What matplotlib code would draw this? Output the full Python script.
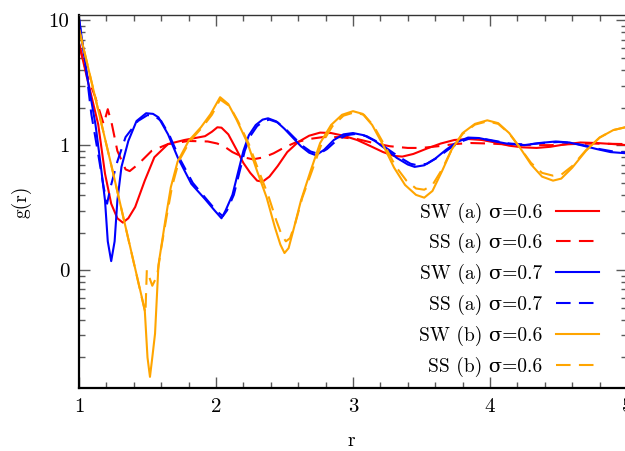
import numpy as np
import matplotlib
matplotlib.use('Agg')
import matplotlib.pyplot as plt
from matplotlib.ticker import LogLocator, NullFormatter

plt.rcParams['font.family'] = ['cmr10', 'DejaVu Serif']
plt.rcParams['font.size'] = 14
plt.rcParams['axes.unicode_minus'] = False

# g(r) curves
r_red_sw = [1.00, 1.066, 1.14, 1.19, 1.235, 1.28, 1.32, 1.36, 1.41, 1.48, 1.55, 1.65, 1.77, 1.92,
            1.97, 2.01, 2.04, 2.09, 2.15, 2.20, 2.25, 2.30, 2.34, 2.39, 2.45, 2.52, 2.60, 2.68,
            2.76, 2.84, 2.93, 3.03, 3.13, 3.22, 3.30, 3.36, 3.44, 3.54, 3.64, 3.74, 3.84, 3.94,
            4.04, 4.14, 4.24, 4.34, 4.44, 4.56, 4.66, 4.78, 4.90, 5.00]
g_red_sw = [6.5, 3.2, 1.47, 0.59, 0.34, 0.26, 0.24, 0.26, 0.32, 0.52, 0.80, 1.02, 1.10, 1.18,
            1.28, 1.39, 1.38, 1.22, 0.92, 0.72, 0.60, 0.52, 0.51, 0.56, 0.68, 0.88, 1.06, 1.19,
            1.26, 1.25, 1.19, 1.10, 0.98, 0.88, 0.82, 0.81, 0.85, 0.94, 1.03, 1.10, 1.12, 1.10,
            1.05, 0.99, 0.96, 0.95, 0.97, 1.02, 1.05, 1.04, 1.02, 1.00]

r_red_ss = [1.00, 1.06, 1.12, 1.18, 1.21, 1.24, 1.28, 1.34, 1.37, 1.43, 1.53, 1.65, 1.80, 1.94,
            2.01, 2.07, 2.12, 2.20, 2.27, 2.35, 2.42, 2.50, 2.58, 2.68, 2.78, 2.90, 3.03, 3.15,
            3.27, 3.40, 3.50, 3.62, 3.74, 3.86, 4.00, 4.15, 4.30, 4.45, 4.60, 4.75, 5.00]
g_red_ss = [6.5, 3.6, 2.4, 1.47, 1.94, 1.47, 0.90, 0.64, 0.62, 0.70, 0.90, 1.02, 1.08, 1.07,
            1.03, 0.96, 0.88, 0.80, 0.77, 0.80, 0.86, 0.96, 1.05, 1.12, 1.16, 1.16, 1.12, 1.04,
            0.98, 0.95, 0.95, 0.98, 1.02, 1.04, 1.03, 1.01, 1.00, 1.00, 1.02, 1.03, 1.02]

r_blue_sw = [1.00, 1.066, 1.12, 1.16, 1.19, 1.21, 1.235, 1.26, 1.28, 1.31, 1.36, 1.42, 1.49, 1.54,
             1.58, 1.65, 1.72, 1.82, 1.92, 1.99, 2.04, 2.07, 2.12, 2.16, 2.20, 2.24, 2.29, 2.34,
             2.38, 2.44, 2.50, 2.56, 2.62, 2.68, 2.73, 2.79, 2.86, 2.93, 3.00, 3.08, 3.16, 3.24,
             3.32, 3.40, 3.45, 3.52, 3.60, 3.68, 3.76, 3.84, 3.92, 4.02, 4.12, 4.25, 4.36, 4.48,
             4.58, 4.68, 4.78, 4.88, 5.00]
g_blue_sw = [10.3, 3.2, 1.47, 0.67, 0.36, 0.17, 0.118, 0.17, 0.36, 0.67, 1.08, 1.56, 1.80, 1.78,
             1.67, 1.22, 0.80, 0.49, 0.37, 0.30, 0.26, 0.30, 0.40, 0.60, 0.90, 1.20, 1.45, 1.60,
             1.64, 1.55, 1.35, 1.15, 0.98, 0.87, 0.83, 0.92, 1.10, 1.22, 1.25, 1.20, 1.08, 0.93,
             0.79, 0.70, 0.67, 0.69, 0.78, 0.92, 1.06, 1.15, 1.14, 1.08, 1.03, 1.00, 1.04, 1.07,
             1.05, 0.99, 0.93, 0.88, 0.86]

r_blue_ss = [1.00, 1.05, 1.09, 1.14, 1.18, 1.205, 1.23, 1.28, 1.34, 1.43, 1.50, 1.55, 1.60, 1.66,
             1.73, 1.83, 1.93, 2.00, 2.05, 2.08, 2.13, 2.17, 2.21, 2.25, 2.30, 2.35, 2.39, 2.45,
             2.51, 2.57, 2.63, 2.69, 2.75, 2.81, 2.88, 2.95, 3.02, 3.10, 3.18, 3.26, 3.34, 3.42,
             3.47, 3.54, 3.62, 3.70, 3.78, 3.86, 3.94, 4.04, 4.14, 4.27, 4.38, 4.50, 4.60, 4.70,
             4.80, 4.90, 5.00]
g_blue_ss = [10.3, 4.2, 1.77, 0.85, 0.46, 0.34, 0.46, 0.74, 1.16, 1.56, 1.74, 1.72, 1.56, 1.20,
             0.80, 0.50, 0.37, 0.30, 0.27, 0.30, 0.40, 0.60, 0.90, 1.18, 1.42, 1.56, 1.60, 1.52,
             1.34, 1.15, 0.99, 0.89, 0.85, 0.93, 1.09, 1.20, 1.23, 1.18, 1.06, 0.92, 0.80, 0.71,
             0.69, 0.71, 0.80, 0.93, 1.06, 1.14, 1.13, 1.08, 1.03, 1.01, 1.04, 1.06, 1.04, 0.99,
             0.93, 0.89, 0.87]

r_orange_sw = [1.00, 1.24, 1.48, 1.50, 1.518, 1.535, 1.555, 1.58, 1.63, 1.67, 1.72, 1.80, 1.89,
               1.96, 2.03, 2.09, 2.15, 2.23, 2.30, 2.37, 2.43, 2.47, 2.50, 2.53, 2.57, 2.62, 2.69,
               2.76, 2.84, 2.92, 3.00, 3.07, 3.14, 3.22, 3.30, 3.38, 3.46, 3.52, 3.58, 3.65, 3.72,
               3.80, 3.89, 3.98, 4.06, 4.14, 4.22, 4.30, 4.38, 4.46, 4.52, 4.60, 4.70, 4.80, 4.90,
               5.00]
g_orange_sw = [8.5, 0.66, 0.048, 0.02, 0.014, 0.02, 0.031, 0.11, 0.25, 0.46, 0.74, 1.08, 1.39,
               1.77, 2.42, 2.13, 1.60, 1.04, 0.62, 0.38, 0.22, 0.16, 0.137, 0.15, 0.22, 0.36, 0.62,
               1.04, 1.45, 1.75, 1.87, 1.78, 1.45, 1.00, 0.66, 0.48, 0.40, 0.38, 0.43, 0.62, 0.92,
               1.25, 1.48, 1.58, 1.50, 1.25, 0.95, 0.70, 0.56, 0.52, 0.54, 0.66, 0.90, 1.15, 1.32,
               1.40]

r_orange_ss = [1.00, 1.24, 1.485, 1.495, 1.535, 1.57, 1.60, 1.64, 1.68, 1.73, 1.81, 1.90, 1.97,
               2.03, 2.10, 2.16, 2.24, 2.31, 2.38, 2.44, 2.48, 2.51, 2.54, 2.58, 2.63, 2.70, 2.77,
               2.85, 2.93, 3.01, 3.08, 3.15, 3.23, 3.31, 3.39, 3.46, 3.52, 3.58, 3.65, 3.72, 3.80,
               3.89, 3.98, 4.06, 4.14, 4.22, 4.30, 4.38, 4.46, 4.52, 4.60, 4.70, 4.80, 4.90, 5.00]
g_orange_ss = [8.5, 0.66, 0.045, 0.10, 0.075, 0.09, 0.15, 0.27, 0.47, 0.75, 1.08, 1.39, 1.75,
               2.32, 2.05, 1.56, 1.02, 0.63, 0.40, 0.25, 0.19, 0.17, 0.18, 0.24, 0.38, 0.62, 1.02,
               1.42, 1.72, 1.83, 1.75, 1.43, 1.00, 0.68, 0.52, 0.45, 0.44, 0.48, 0.64, 0.92, 1.23,
               1.46, 1.55, 1.48, 1.24, 0.95, 0.72, 0.60, 0.57, 0.58, 0.68, 0.91, 1.15, 1.32, 1.40]

xticks = [1, 2, 3, 4, 5]
yticks = [0.1, 1, 10]
ytick_labels = ['0', '1', '10']

fig = plt.figure(figsize=(6.25, 4.51), dpi=100)
ax = fig.add_axes([79/625, 63/451, 548/625, 373/451])

dash = (0, (7, 4))
ax.plot(r_red_sw, g_red_sw, color='#ff0000', lw=1.5, label='SW (a) σ=0.6')
ax.plot(r_red_ss, g_red_ss, color='#ff0000', lw=1.5, ls=dash, label='SS (a) σ=0.6')
ax.plot(r_blue_sw, g_blue_sw, color='#0000ff', lw=1.5, label='SW (a) σ=0.7')
ax.plot(r_blue_ss, g_blue_ss, color='#0000ff', lw=1.5, ls=dash, label='SS (a) σ=0.7')
ax.plot(r_orange_sw, g_orange_sw, color='#ffa500', lw=1.5, label='SW (b) σ=0.6')
ax.plot(r_orange_ss, g_orange_ss, color='#ffa500', lw=1.5, ls=dash, label='SS (b) σ=0.6')

ax.set_xlim(1, 5)
ax.set_xticks(xticks)
ax.set_xticklabels([str(x) for x in xticks])
ax.set_xticks(np.arange(1, 5.01, 0.2), minor=True)

ax.set_yscale('log')
ax.set_ylim(0.0114, 11)
ax.set_yticks(yticks)
ax.set_yticklabels(ytick_labels)
ax.yaxis.set_minor_locator(LogLocator(base=10, subs=np.arange(2, 10)))
ax.yaxis.set_minor_formatter(NullFormatter())

ax.tick_params(which='both', direction='in', top=True, right=True, color='0.35', width=1)
ax.tick_params(which='major', length=8, pad=7, labelsize=15)
ax.tick_params(which='minor', length=4)

for s in ['left', 'bottom']:
    ax.spines[s].set_linewidth(1.6)
    ax.spines[s].set_color('black')
for s in ['top', 'right']:
    ax.spines[s].set_linewidth(1.0)
    ax.spines[s].set_color('0.2')

ax.set_xlabel('r', fontsize=14)
ax.set_ylabel('g(r)', fontsize=14)
ax.xaxis.set_label_coords(0.496, -0.118)
ax.yaxis.set_label_coords(-0.086, 0.5)

ax.legend(loc='center right', bbox_to_anchor=(599/625, 161.5/451), bbox_transform=fig.transFigure,
          markerfirst=False, frameon=False, borderpad=0, borderaxespad=0, handlelength=2.2,
          handletextpad=0.7, labelspacing=0.55, fontsize=14)

fig.savefig('out.png', dpi=100)
